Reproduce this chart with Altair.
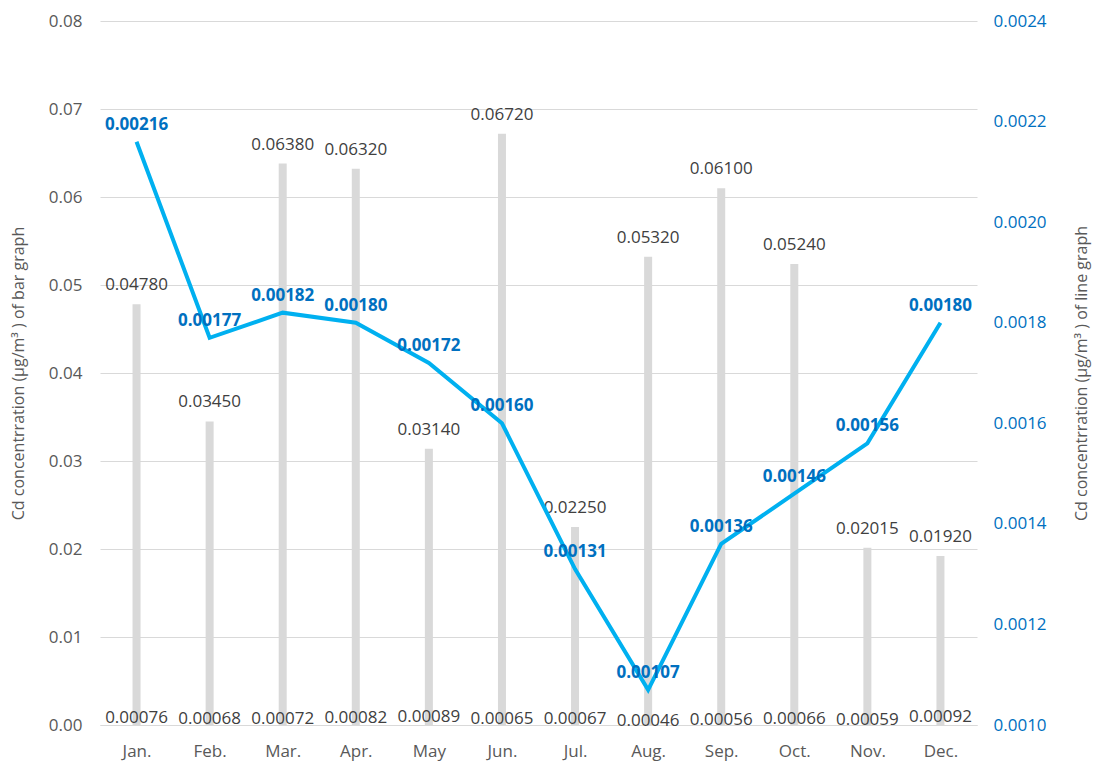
import altair as alt
import pandas as pd

months = ["Jan.", "Feb.", "Mar.", "Apr.", "May", "Jun.", "Jul.", "Aug.", "Sep.", "Oct.", "Nov.", "Dec."]
bar_values = [0.04780, 0.03450, 0.06380, 0.06320, 0.03140, 0.06720, 0.02250, 0.05320, 0.06100, 0.05240, 0.02015, 0.01920]
small_values = [0.00076, 0.00068, 0.00072, 0.00082, 0.00089, 0.00065, 0.00067, 0.00046, 0.00056, 0.00066, 0.00059, 0.00092]
line_values = [0.00216, 0.00177, 0.00182, 0.00180, 0.00172, 0.00160, 0.00131, 0.00107, 0.00136, 0.00146, 0.00156, 0.00180]

df = pd.DataFrame({"month": months, "bar": bar_values, "small": small_values, "line": line_values})

FONT = "Open Sans"
GRAY = "#595959"
BLUE = "#0070c0"
LEFT_TITLE = "Cd concentrration (μg/m³ ) of bar graph"
RIGHT_TITLE = "Cd concentrration (μg/m³ ) of line graph"
FS = 17

x = alt.X("month:N", sort=months, title=None,
          scale=alt.Scale(type="point", padding=0.5),
          axis=alt.Axis(labelAngle=0, ticks=False, domain=True, domainColor="#d9d9d9",
                        labelColor=GRAY, labelFont=FONT, labelFontSize=FS, labelPadding=18, grid=False))

yl_scale = alt.Scale(domain=[0, 0.08], nice=False, zero=True)
yr_scale = alt.Scale(domain=[0.001, 0.0024], nice=False, zero=False)

left_axis = alt.Axis(values=[0, 0.01, 0.02, 0.03, 0.04, 0.05, 0.06, 0.07, 0.08], format=".2f",
                     ticks=False, domain=False, grid=True, gridColor="#d9d9d9",
                     labelColor=GRAY, labelFont=FONT, labelFontSize=FS, labelPadding=18,
                     titleColor=GRAY, titleFont=FONT, titleFontSize=16, titleFontWeight="normal",
                     titlePadding=22)
right_axis = alt.Axis(orient="right", values=[0.001, 0.0012, 0.0014, 0.0016, 0.0018, 0.002, 0.0022, 0.0024],
                      format=".4f", ticks=False, domain=False, grid=False,
                      labelColor=BLUE, labelFont=FONT, labelFontSize=FS, labelPadding=16,
                      titleColor=GRAY, titleFont=FONT, titleFontSize=16, titleFontWeight="normal",
                      titleAngle=270, titlePadding=43)

base = alt.Chart(df)

bars = base.mark_bar(color="#d9d9d9", size=8).encode(
    x=x,
    y=alt.Y("bar:Q", scale=yl_scale, title=LEFT_TITLE, axis=left_axis),
)

bar_text = base.mark_text(font=FONT, fontSize=FS, color="#404040", baseline="middle", dy=-19).encode(
    x=x,
    y=alt.Y("bar:Q", scale=yl_scale, title=LEFT_TITLE, axis=left_axis),
    text=alt.Text("bar:Q", format=".5f"),
)

small_text = base.mark_text(font=FONT, fontSize=FS, color="#404040", baseline="middle", dy=0).encode(
    x=x,
    y=alt.Y("small:Q", scale=yl_scale, title=LEFT_TITLE, axis=left_axis),
    text=alt.Text("small:Q", format=".5f"),
)

left = alt.layer(bars, bar_text, small_text)

line = base.mark_line(color="#00b0f0", strokeWidth=4).encode(
    x=x,
    y=alt.Y("line:Q", scale=yr_scale, title=RIGHT_TITLE, axis=right_axis),
)

line_text = base.mark_text(font=FONT, fontSize=FS, fontWeight="bold", color=BLUE, baseline="middle", dy=-17).encode(
    x=x,
    y=alt.Y("line:Q", scale=yr_scale, title=RIGHT_TITLE, axis=right_axis),
    text=alt.Text("line:Q", format=".5f"),
)

right = alt.layer(line, line_text)

chart = alt.layer(left, right).resolve_scale(y="independent").properties(
    width=877, height=704,
    padding={"left": 10, "top": 12, "right": 5, "bottom": 5},
    background="white",
).configure_view(stroke=None)

chart.save("out.html", embed_options={"renderer": "svg", "actions": False})
